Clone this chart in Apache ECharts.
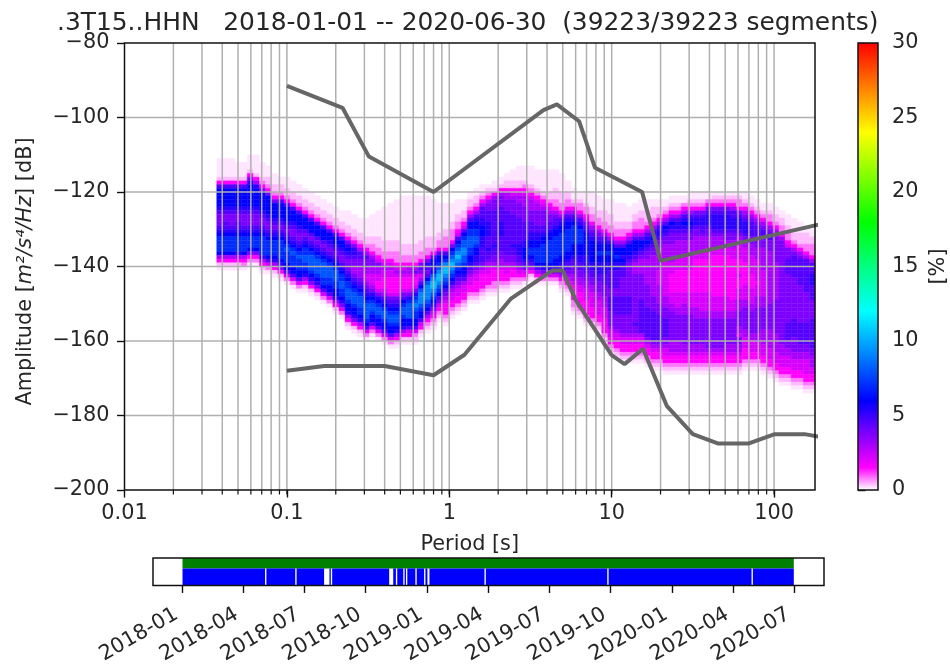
<!DOCTYPE html>
<html><head><meta charset="utf-8">
<style>html,body{margin:0;padding:0;background:#fff}#c{width:950px;height:667px}</style>
<script src="https://cdn.jsdelivr.net/npm/echarts@6/dist/echarts.min.js"></script>
</head><body><div id="c"></div>
<script>
const titleText = '.3T15..HHN   2018-01-01 -- 2020-06-30  (39223/39223 segments)';
const periodEdges = [.037,.0403,.044,.048,.0523,.057,.0622,.0679,.074,.0807,.088,.096,.1047,.1141,.1245,.1358,.148,.1614,.176,.1919,.2093,.2282,.249,.2715,.296,.3228,.352,.3839,.4186,.4565,.4978,.5429,.592,.6456,.704,.7678,.8373,.913,.9956,1.086,1.184,1.291,1.408,1.536,1.675,1.826,1.991,2.172,2.368,2.582,2.816,3.071,3.349,3.652,3.982,4.343,4.736,5.165,5.632,6.142,6.698,7.304,7.965,8.686,9.472,10.33,11.26,12.28,13.4,14.61,15.93,17.37,18.94,20.66,22.53,24.57,26.79,29.21,31.86,34.74,37.89,41.32,45.06,49.14,53.58,58.43,63.72,69.49,75.78,82.64,90.11,98.27,107.2,116.9,127.4,139,151.6,165.3,178.7];
// percent level for each character of the column strings
const levelKeys = '0123456789abcde';
const levelPercents = [0,.15,.4,.8,1.5,2.2,3,3.8,4.5,5.2,6,7,8,9.2,10.5];
// upper dB edge of the first cell in each period column
const columnTopDb = [-111,-111,-111,-112,-112,-110,-110,-112,-113,-115,-116,-116,-117,-118,-119,-120,-121,-122,-123,-124,-125,-125,-126,-127,-127,-126,-125,-124,-123,-122,-121,-121,-121,-121,-121,-122,-123,-123,-123,-122,-122,-120,-119,-118,-118,-117,-116,-115,-114,-113,-113,-113,-114,-114,-114,-114,-115,-117,-119,-120,-120,-120,-121,-122,-122,-123,-123,-124,-123,-122,-122,-122,-122,-122,-121,-121,-121,-120,-120,-120,-120,-120,-120,-120,-120,-120,-120,-121,-122,-123,-123,-124,-125,-126,-127,-128,-129,-130];
const columnCells = [
"11111248aaaaa9877789abbbba6421","11111248aaaaa9877889abbbba6421","11111248aaaaa9877789abbbba6421","1111248aaaaa9877889abbbb96421","1111248aaaaa9877789abbbba6431",
"11112479aaaaaa9877789abbba7431","111112469aaaaa9877789abbba7431","11112347aaaaa987789abbbbb96421","11122347aaaaa987789abbbba8531","11122347aaaa98789abbbba96421",
"1122348aaaa98789abbbbba97421","11122348aaaa98789abcbbbaa8531","11122348aaa987789abcbbbaa8531","11122348aaa987789abcbbbaa8531","11122348aaa8789abbccbba96421",
"11122348aaa8789abccccba97421","11122348aaa8789abccccba97421","11122348aaa8789abccccbba8531","11122348aa98789abcccbbaa8531","11122348aa98789abcccbbaa96421",
"11122348aa987789abbccbba97531","111122347 9a9877789abbcccbaa96421","111122347998776 6789abcccbaa97421","1111223468877666789abcccbba96421","111112234687766556789abccccba8531",
"1111112233467766555679abccbaa8531","1111111222334576655445 79abccbaa8531","11111111122233456554445689abccbaa8531","111111111122233456554444578 9abccbaa8531","1111111111122233345654444578 9abccba96421",
"1111111111111222334565444578abccbaa96421","1111111111111222334665444579bccccaa85421","11111111111112223346754457 9bcdcbbaa85321","1111111111112223347875 68acdddcbaa85421","111111111112223347987 8acddddcba864321",
"1111111111222348aa9acdeedcba9754321","11111111223348aabcdeedcba8754321","1111111223334 8abdeedcba8765444321","111112233347abcdedcba9765544321","11112233458abcdedcba987655 44321",
"111223458abccddccbaa9865544321","11223468aabbcccbbaa98765544321","112234 689aabbccbaa9987655444321","11234 68 8899 aaa9 9988 88765 4444321","123 46 7788 8999 9888 98876 55444321",
"11246 7778 8888 8888 98877 654443321","1124677788889999888877665444321","1122466777888888888888 7765544321","11122456777788888888988776544321","111122456677778888888999887654321",
"111123456667777888889 9aaa9875431","1111123456667778889 9aabba986421","111112345667777889 9aabbbba86421","1111112345677778 89aabbbbba97531","11111122345 67788 9aabbbbbba97531",
"1111122233467889aabbbbbbaa97531","1111122233 4689aabbbbbbaa98764321","1112233 46 89aabbbbbbaa9887654321","11123468 9abbbbbaaa988776654444 3321","112334689abbbbaaa99887766554444 321",
"111233 45789aaaaaa99988 77665554444321","11112233 46789aaaaaa99887766 5555444321","1111223346789aabaa999887776 6555 5 44321","1112223346 89aabaa9998887776665554444321",
"111122233 4 68 aaba a998 8888 7788 8877 7765 544321",
"111112233 4 68 aaba 9988 8887 7888 8877 7765 544321",
"111112233 4 68 aa9a 9888 7777 7888 8877 7776 5544321",
"1111223 4 68aa a98 777 77777 7888 8877 7776 5544321",
"1112233 4 68aa a987 666 7777 7777 7777 7877 6 5544321",
"11122333 4 68a a987 6666 7777 7778 8888 8888 65544321",
"1112223 4 689 a987 7666 6666 7777 7788 8888 8876544321",
"112223 4 689 a987 7666 6666 6666 7777 8888 8888 76544321",
"11223 4 689 9877 6666 6655 5566 6667 7788 8888 876544321",
"1123 4 68a 9877 6666 6555 5555 5566 6777 8888 8776 5544321",
"1123 4 68a 9877 7666 6655 5444 4455 5667 7777 7776 66544321",
"1123 4 689 9877 6666 5555 4444 4455 5566 7777 7776 66544321",
"113 4 689 a987 7666 6555 5444 4445 5566 6777 7777 766 544321",
"1123 4 689 a987 7666 6555 5444 4445 5556 6777 7777 766 544321",
"1123 4 789 9877 6666 5544 4444 4445 5556 6677 7777 766 544321",
"1123 4 789 9887 6666 5544 4444 4445 5555 6677 7777 766 544321",
"113 4 789 9987 7666 5554 4444 4444 5555 5667 7777 7776 544321",
"123 4 789 9998 7666 5544 4444 4444 4555 5667 7777 7776 544321",
"123 4 789 9998 7666 5544 4444 4444 4555 5667 7777 7776 544321",
"123 4 789 9998 7766 5544 4444 4444 4555 5667 7777 7766 544321",
"123 4 688 9998 7766 5554 4444 4444 4455 5667 7777 7766 544321",
"123 3 4 78 9998 7665 5554 4445 4445 5566 6777 7665 7766544321",
"1123 4 678 9998 7665 5554 4444 4555 5667 7777 7665 55444321",
"1123 4 678 8887 7666 5555 5444 4555 5667 7777 7665 5544321",
"1123 4 678 8877 7666 5555 5545 5566 6777 7777 665 5544321",
"1123 4 678 8777 6666 6655 5555 5666 7777 7766 6655 544321",
"11233 4 678 8777 6666 6666 6666 6677 7777 7666 6655 544321",
"11223 4 677 7777 7766 6666 6666 7777 7777 7666 6655 544321",
"112233 4 67 7777 7777 7777 7777 7777 7777 7776 6655 544321",
"1112233 4 57 7788 8877 7777 7777 7778 8888 7766 55 544321",
"1111223 4 678 8888 8777 7777 7777 8888 8777 7665 5544321",
"1112223 4 678 8888 8877 7777 7777 8888 8877 6655 544321",
"1122233 4 68 8888 8888 7777 7777 8888 8877 6655 5544321",
"1122333 4 68 8899 9888 8777 7788 8888 8877 6665 544321"
].map(s => s.replace(/ /g, ''));
const upperNoisePeriods = [.1,.22,.32,.8,3.8,4.6,6.3,7.9,15.4,20,354.8];
const upperNoiseDb = [-91.5,-97.4,-110.5,-120,-98,-96.5,-101,-113.5,-120,-138.5,-126];
const lowerNoisePeriods = [.1,.17,.4,.8,1.24,2.4,4.3,5,6,10,12,15.6,21.9,31.6,45,70,101,154,328];
const lowerNoiseDb = [-168,-166.7,-166.7,-169.2,-163.7,-148.6,-141.1,-141.1,-149,-163.8,-166.2,-162.1,-177.5,-185,-187.5,-187.5,-185,-185,-187.5];
const periodGridLines = [.02,.03,.04,.05,.06,.07,.08,.09,.1,.2,.3,.4,.5,.6,.7,.8,.9,1,2,3,4,5,6,7,8,9,10,20,30,40,50,60,70,80,90,100];
const dbGridLines = [-100,-120,-140,-160,-180];
const periodTicks = [.01,.1,1,10,100];
const periodTickLabels = ['0.01','0.1','1','10','100'];
const timeTicks = ['2018-01-01','2018-04-01','2018-07-01','2018-10-01','2019-01-01','2019-04-01','2019-07-01','2019-10-01','2020-01-01','2020-04-01','2020-07-01'];
const coverageRuns = [['2018-01-01','2020-06-30']];
const dataRuns = [['2018-01-01','2018-05-04'],['2018-05-06','2018-06-18'],['2018-06-20','2018-07-31'],['2018-08-08','2018-08-10'],['2018-08-12','2018-11-05'],['2018-11-11','2018-11-15'],['2018-11-17','2018-11-26'],['2018-11-28','2018-11-30'],['2018-12-02','2018-12-14'],['2018-12-16','2018-12-27'],['2018-12-29','2019-01-01'],['2019-01-04','2019-03-27'],['2019-03-29','2019-09-26'],['2019-09-28','2020-04-28'],['2020-04-30','2020-06-30']];
const colorValues = [0,1.5,3,4.5,6,7.5,9,10.5,12,13.5,15,16.5,18,19.5,21,22.5,24,25.5,27,28.5,30];
const colorList = ['#ffffff','#ff00ff','#aa00ff','#5500ff','#0000ff','#0040ff','#0080ff','#00bfff','#00ffff','#00ffbf','#00ff80','#00ff40','#00ff00','#40ff00','#80ff00','#bfff00','#ffff00','#ffbf00','#ff8000','#ff4000','#ff0000'];

const FONT = '"DejaVu Sans"';
const TXT = '#262626';
const FS = 20.8;
const t = s => new Date(s + 'T00:00:00Z').getTime();

const heatCells = [];
columnCells.forEach((col, k) => {
  for (let i = 0; i < col.length; i++) {
    const pct = levelPercents[levelKeys.indexOf(col[i])];
    if (pct > 0) heatCells.push([periodEdges[k], periodEdges[k + 1], columnTopDb[k] - i, pct]);
  }
});

const frameItem = (params, api) => {
  const a = api.coord([api.value(0), api.value(3)]);
  const b = api.coord([api.value(1), api.value(2)]);
  return {type: 'rect', shape: {x: a[0], y: a[1], width: b[0] - a[0], height: b[1] - a[1]},
    style: {fill: 'none', stroke: '#111', lineWidth: 1.5}};
};
const runItem = (low, high, color) => (params, api) => {
  const a = api.coord([api.value(0), high]);
  const b = api.coord([api.value(1), low]);
  return {type: 'rect', shape: {x: a[0], y: a[1], width: b[0] - a[0], height: b[1] - a[1]}, style: {fill: color}};
};
const tickStyle = {show: true, length: 7.5, lineStyle: {color: '#111', width: 1.4}};
const labelStyle = {color: TXT, fontFamily: FONT, fontSize: FS};

const option = {
  animation: false, backgroundColor: '#fff',
  title: {text: titleText, left: 52, top: 6, textStyle: {fontFamily: FONT, fontWeight: 'normal', fontSize: 24.9, color: TXT}},
  grid: [
    {left: 124.5, top: 43, width: 690.5, height: 447},
    {left: 153, top: 558, width: 671, height: 29},
    {left: 858, top: 43, width: 22, height: 447}
  ],
  xAxis: [
    {type: 'log', gridIndex: 0, min: .01, max: 178.7, logBase: 10, splitLine: {show: false}, minorTick: {show: false},
     axisLine: {show: false}, axisTick: Object.assign({}, tickStyle, {customValues: periodTicks}),
     axisLabel: Object.assign({}, labelStyle, {margin: 13, customValues: periodTicks, formatter: v => {
       const i = periodTicks.findIndex(p => Math.abs(p / v - 1) < 1e-6);
       return i >= 0 ? periodTickLabels[i] : '';
     }}),
     name: 'Period [s]', nameLocation: 'middle', nameGap: 44, nameTextStyle: {color: TXT, fontFamily: FONT, fontSize: FS}},
    {type: 'value', gridIndex: 1, min: t('2017-11-18'), max: t('2020-08-14'), splitLine: {show: false},
     axisLine: {show: false}, axisTick: Object.assign({}, tickStyle, {customValues: timeTicks.map(t)}),
     axisLabel: Object.assign({}, labelStyle, {rotate: 30, margin: 24, padding: [0, 7, 0, 0], hideOverlap: false, customValues: timeTicks.map(t),
       formatter: v => new Date(v).toISOString().slice(0, 7)})},
    {type: 'value', gridIndex: 2, min: 0, max: 1, show: false}
  ],
  yAxis: [
    {type: 'value', gridIndex: 0, min: -200, max: -80, interval: 20, splitLine: {show: false},
     axisLine: {show: false}, axisTick: tickStyle,
     axisLabel: Object.assign({}, labelStyle, {margin: 15, formatter: v => String(v).replace('-', '\u2212')}),
     name: '{a|Amplitude [}{b|m\u00b2/s\u2074/Hz}{a|] [dB]}', nameLocation: 'middle', nameGap: 88, nameRotate: 90,
     nameTextStyle: {padding: [0, 10, 0, 0], rich: {a: {color: TXT, fontFamily: FONT, fontSize: FS}, b: {color: TXT, fontFamily: FONT, fontSize: FS, fontStyle: 'italic'}}}},
    {type: 'value', gridIndex: 1, min: 0, max: 1, show: false},
    {type: 'value', gridIndex: 2, min: 0, max: 30, interval: 5, position: 'right', splitLine: {show: false},
     axisLine: {show: false}, axisTick: tickStyle,
     axisLabel: Object.assign({}, labelStyle, {margin: 14}),
     name: '[%]', nameLocation: 'middle', nameGap: 50, nameRotate: 90, nameTextStyle: {color: TXT, fontFamily: FONT, fontSize: FS}}
  ],
  visualMap: {show: false, seriesIndex: 0, dimension: 3, min: 0, max: 30, inRange: {color: colorList}},
  series: [
    {type: 'custom', xAxisIndex: 0, yAxisIndex: 0, z: 1, silent: true, data: heatCells, encode: {x: [0, 1], y: 2},
     clip: true, progressive: 0,
     renderItem: (params, api) => {
       const a = api.coord([api.value(0), api.value(2)]);
       const b = api.coord([api.value(1), api.value(2) - 1]);
       const c = api.visual('color');
       return {type: 'rect', shape: {x: a[0], y: a[1], width: b[0] - a[0], height: b[1] - a[1]},
         style: {fill: c, stroke: c, lineWidth: .4}};
     }},
    {type: 'custom', xAxisIndex: 0, yAxisIndex: 0, z: 2, silent: true, data: periodGridLines.map(p => [p]), encode: {x: 0},
     renderItem: (params, api) => {
       const a = api.coord([api.value(0), -200]), b = api.coord([api.value(0), -80]);
       return {type: 'line', shape: {x1: a[0], y1: a[1], x2: b[0], y2: b[1]}, style: {stroke: '#b0b0b0', lineWidth: 1.5}};
     }},
    {type: 'custom', xAxisIndex: 0, yAxisIndex: 0, z: 2, silent: true, data: dbGridLines.map(d => [d]), encode: {y: 0},
     renderItem: (params, api) => {
       const a = api.coord([.01, api.value(0)]), b = api.coord([178.7, api.value(0)]);
       return {type: 'line', shape: {x1: a[0], y1: a[1], x2: b[0], y2: b[1]}, style: {stroke: '#b0b0b0', lineWidth: 1.5}};
     }},
    {type: 'line', xAxisIndex: 0, yAxisIndex: 0, z: 3, silent: true, symbol: 'none', clip: true,
     data: upperNoisePeriods.map((p, i) => [p, upperNoiseDb[i]]), lineStyle: {color: '#666666', width: 4}},
    {type: 'line', xAxisIndex: 0, yAxisIndex: 0, z: 3, silent: true, symbol: 'none', clip: true,
     data: lowerNoisePeriods.map((p, i) => [p, lowerNoiseDb[i]]), lineStyle: {color: '#666666', width: 4}},
    {type: 'custom', xAxisIndex: 0, yAxisIndex: 0, z: 5, silent: true, clip: false, data: periodGridLines.map(p => [p]), encode: {x: 0},
     renderItem: (params, api) => {
       const a = api.coord([api.value(0), -200]);
       return {type: 'line', shape: {x1: a[0], y1: a[1], x2: a[0], y2: a[1] + 4.5}, style: {stroke: '#111', lineWidth: 1.2}};
     }},
    {type: 'custom', xAxisIndex: 0, yAxisIndex: 0, z: 5, silent: true, clip: false, data: [[.01, 178.7, -200, -80]], encode: {x: [0, 1], y: [2, 3]}, renderItem: frameItem},
    {type: 'custom', xAxisIndex: 1, yAxisIndex: 1, z: 1, silent: true, data: coverageRuns.map(r => [t(r[0]), t(r[1])]), encode: {x: [0, 1]}, renderItem: runItem(.62, 1, '#008000')},
    {type: 'custom', xAxisIndex: 1, yAxisIndex: 1, z: 1, silent: true, data: dataRuns.map(r => [t(r[0]), t(r[1])]), encode: {x: [0, 1]}, renderItem: runItem(0, .62, '#0000ff')},
    {type: 'custom', xAxisIndex: 1, yAxisIndex: 1, z: 5, silent: true, clip: false, data: [[t('2017-11-18'), t('2020-08-14'), 0, 1]], encode: {x: [0, 1], y: [2, 3]}, renderItem: frameItem},
    {type: 'custom', xAxisIndex: 2, yAxisIndex: 2, z: 1, silent: true, data: [[0, 1, 0, 30]], encode: {x: [0, 1], y: [2, 3]},
     renderItem: (params, api) => {
       const a = api.coord([api.value(0), api.value(3)]), b = api.coord([api.value(1), api.value(2)]);
       return {type: 'rect', shape: {x: a[0], y: a[1], width: b[0] - a[0], height: b[1] - a[1]},
         style: {fill: new echarts.graphic.LinearGradient(0, 1, 0, 0, colorValues.map((v, i) => ({offset: v / 30, color: colorList[i]})))}};
     }},
    {type: 'custom', xAxisIndex: 2, yAxisIndex: 2, z: 5, silent: true, clip: false, data: [[0, 1, 0, 30]], encode: {x: [0, 1], y: [2, 3]}, renderItem: frameItem}
  ]
};
const chart = echarts.init(document.getElementById('c'), null, {renderer: 'canvas'});
chart.setOption(option);
</script></body></html>
